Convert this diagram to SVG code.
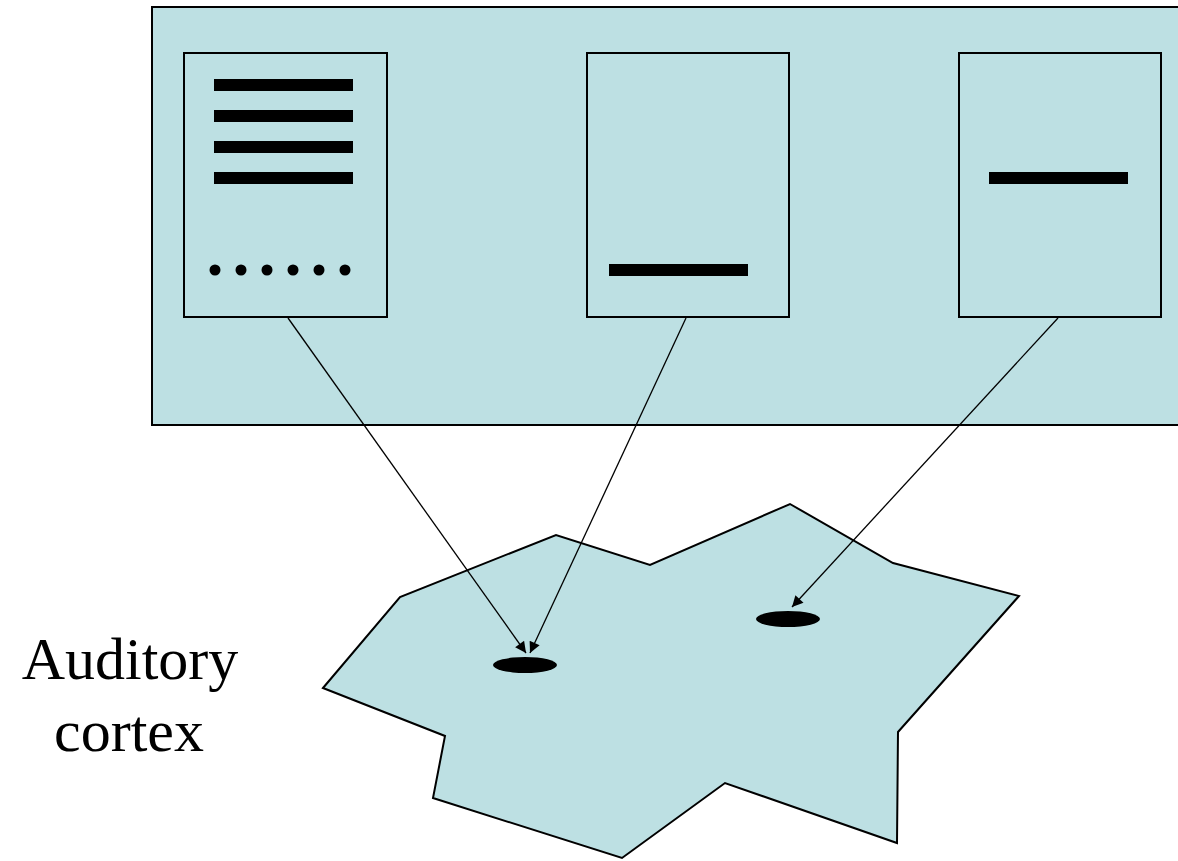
<svg xmlns="http://www.w3.org/2000/svg" width="1178" height="861" viewBox="0 0 1178 861">
  <style>
    .panel { fill: #bde0e3; stroke: #000; stroke-width: 2; }
    .box { fill: #bde0e3; stroke: #000; stroke-width: 2; }
    .bar { fill: #000; }
    .dot { fill: #000; }
    .spot { fill: #000; }
    .link { fill: none; stroke: #000; stroke-width: 1.3; marker-end: url(#head); }
    .label { font-family: "Liberation Serif", "Times New Roman", serif; font-size: 60px; fill: #000; text-anchor: middle; }
  </style>
  <defs>
    <marker id="head" viewBox="0 0 10 10" refX="10" refY="5" markerWidth="13" markerHeight="11" markerUnits="userSpaceOnUse" orient="auto">
      <path d="M0,0 L10,5 L0,10 Z" fill="#000"/>
    </marker>
  </defs>

  <rect width="1178" height="861" fill="#fff"/>

  <!-- sound panel holding the three spectrogram cards -->
  <g id="panel">
    <rect class="panel" x="152" y="7" width="1040" height="418"/>
  </g>

  <g id="card-complex">
    <rect class="box" x="184" y="53" width="203" height="264"/>
    <rect class="bar" x="214" y="79" width="139" height="12"/>
    <rect class="bar" x="214" y="110" width="139" height="12"/>
    <rect class="bar" x="214" y="141" width="139" height="12"/>
    <rect class="bar" x="214" y="172" width="139" height="12"/>
    <circle class="dot" cx="215" cy="270" r="5.5"/>
    <circle class="dot" cx="241" cy="270" r="5.5"/>
    <circle class="dot" cx="267" cy="270" r="5.5"/>
    <circle class="dot" cx="293" cy="270" r="5.5"/>
    <circle class="dot" cx="319" cy="270" r="5.5"/>
    <circle class="dot" cx="345" cy="270" r="5.5"/>
  </g>

  <g id="card-low">
    <rect class="box" x="587" y="53" width="202" height="264"/>
    <rect class="bar" x="609" y="264" width="139" height="12"/>
  </g>

  <g id="card-high">
    <rect class="box" x="959" y="53" width="202" height="264"/>
    <rect class="bar" x="989" y="172" width="139" height="12"/>
  </g>

  <!-- cortical sheet -->
  <g id="cortex">
    <polygon fill="#bde0e3" stroke="#000" stroke-width="2" stroke-linejoin="miter"
      points="323,688 400,597 556,535 650,565 790,504 893,563 1019,596 898,732 897,843 725,783 622,858 433,798 445,736"/>
    <ellipse class="spot" cx="525" cy="665" rx="32" ry="8"/>
    <ellipse class="spot" cx="788" cy="619" rx="32" ry="8"/>
  </g>

  <g id="label">
    <text class="label" x="130" y="679">Auditory</text>
    <text class="label" x="129" y="751">cortex</text>
  </g>

  <g id="connectors">
    <line class="link" x1="288" y1="318" x2="526" y2="653"/>
    <line class="link" x1="686" y1="318" x2="530" y2="653"/>
    <line class="link" x1="1058" y1="318" x2="792" y2="607"/>
  </g>
</svg>
